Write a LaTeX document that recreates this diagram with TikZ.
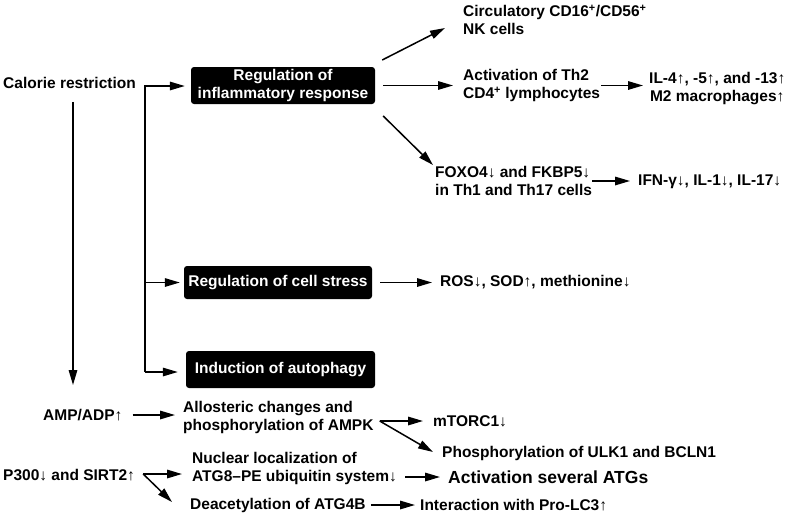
\documentclass[tikz,border=0pt]{standalone}
\usepackage{fontspec}
\setmainfont{Liberation Sans}
\usetikzlibrary{arrows.meta}
\begin{document}
\begin{tikzpicture}[x=1pt,y=-1pt,
 txt/.style={font=\bfseries\fontsize{15.5}{18}\selectfont, inner sep=0pt, align=left, anchor=west},
 blk/.style={fill=black, text=white, rounded corners=3pt, font=\bfseries\fontsize{15.5}{18}\selectfont, align=center, inner sep=0pt},
 arr/.style={line width=1.5pt, -{Triangle[length=15pt,width=8.5pt]}},
 ln/.style={line width=1.5pt}]
\useasboundingbox (0,0) rectangle (789,515);
% nodes
\node[txt] (cr) at (3,83) {Calorie restriction};
\node[blk, minimum width=184pt, minimum height=37pt] (box1) at (283,85.5) {Regulation of\\inflammatory response};
\node[blk, minimum width=188pt, minimum height=33pt] (box2) at (278,282.5) {Regulation of cell stress};
\node[blk, minimum width=189pt, minimum height=37pt] (box3) at (280.5,369.5) {Induction of autophagy};
\node[txt] (nk) at (463,20) {Circulatory CD16\textsuperscript{+}/CD56\textsuperscript{+}\\NK cells};
\node[txt] (th2) at (463,85.5) {Activation of Th2\\CD4\textsuperscript{+} lymphocytes};
\node[txt, align=center] (il4) at (649,89) {IL-4↑, -5↑, and -13↑\\M2 macrophages↑};
\node[txt] (foxo) at (435,181) {FOXO4↓ and FKBP5↓\\in Th1 and Th17 cells};
\node[txt] (ifn) at (638,182) {IFN-γ↓, IL-1↓, IL-17↓};
\node[txt] (ros) at (440,282) {ROS↓, SOD↑, methionine↓};
\node[txt] (amp) at (43,415) {AMP/ADP↑};
\node[txt] (allo) at (183,417) {Allosteric changes and\\phosphorylation of AMPK};
\node[txt] (mtor) at (433,421) {mTORC1↓};
\node[txt] (ulk) at (442,453) {Phosphorylation of ULK1 and BCLN1};
\node[txt] (p300) at (3,475) {P300↓ and SIRT2↑};
\node[txt] (nuc) at (192,468.5) {Nuclear localization of\\ATG8–PE ubiquitin system↓};
\node[txt, font=\bfseries\fontsize{17.5}{20}\selectfont] (atgs) at (448,477) {Activation several ATGs};
\node[txt] (deac) at (190,505) {Deacetylation of ATG4B};
\node[txt] (pro) at (420,505) {Interaction with Pro-LC3↑};
% coordinates
\coordinate (crend) at (73,385);
\coordinate (brtop) at (145,86);
\coordinate (brbot) at (145,372);
% connectors
\draw[arr, shorten <=13pt] (cr.south -| crend) -- (crend);
\draw[arr, shorten >=6pt] (brbot) -- (brtop) -- (brtop -| box1.west);
\draw[arr, shorten >=4pt] (brtop |- box2.west) -- (box2.west);
\draw[arr, shorten >=8pt] (brbot) -- (brbot -| box3.west);
\draw[arr] ([xshift=7pt,yshift=25.5pt]box1.east) -- ([xshift=-18pt,yshift=-8pt]nk.west);
\draw[arr, shorten <=8pt, shorten >=10pt] (box1.east) -- (box1.east -| th2.west);
\draw[arr] ([xshift=8pt,yshift=-30.5pt]box1.east) -- ([xshift=-2pt,yshift=16pt]foxo.west);
\draw[arr, shorten <=1pt, shorten >=6pt] (th2.east) -- (th2.east -| il4.west);
\draw[arr, shorten >=8pt] (foxo.east) -- (foxo.east -| ifn.west);
\draw[arr, shorten <=8pt, shorten >=8pt] (box2.east) -- (box2.east -| ros.west);
\draw[arr, shorten <=10pt, shorten >=8pt] (amp.east) -- (amp.east -| allo.west);
\draw[arr] ([xshift=6pt,yshift=-4pt]allo.east) -- ([xshift=-10pt]mtor.west);
\draw[arr] ([xshift=6pt,yshift=-4pt]allo.east) -- ([xshift=-9pt,yshift=1pt]ulk.west);
\draw[arr] ([xshift=8pt,yshift=1pt]p300.east) -- ([xshift=-10pt,yshift=-5.5pt]nuc.west);
\draw[arr] ([xshift=8pt,yshift=1pt]p300.east) -- ([xshift=-18pt,yshift=3pt]deac.west);
\draw[arr, shorten >=8pt] ([xshift=8pt]nuc.east |- atgs.west) -- (atgs.west);
\draw[arr, shorten <=5pt, shorten >=5pt] (deac.east) -- (deac.east -| pro.west);
\end{tikzpicture}
\end{document}
